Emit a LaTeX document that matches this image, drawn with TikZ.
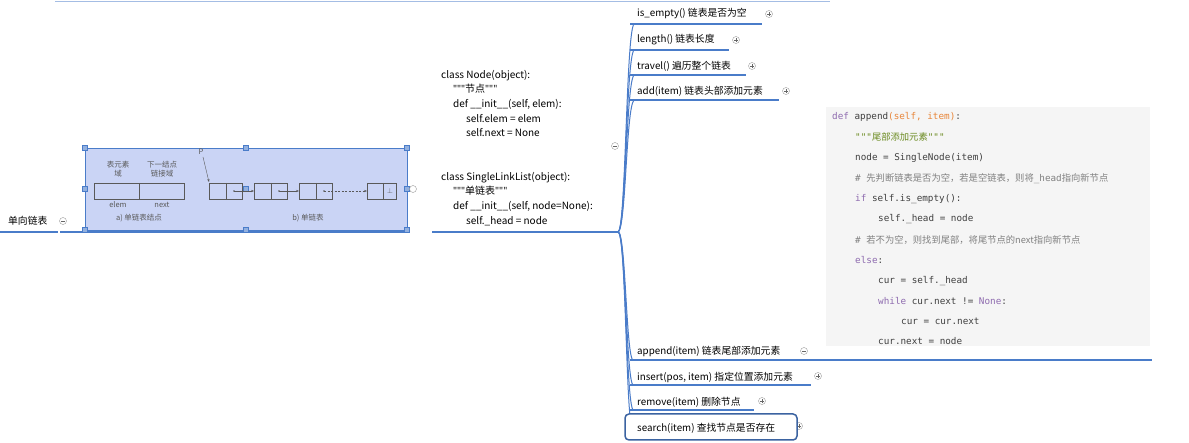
\documentclass[tikz,border=0pt]{standalone}
\usepackage{fontspec}
\setmainfont{Noto Sans CJK SC}
\newfontfamily\cjk{Noto Sans CJK SC}
\newfontfamily\lat{Open Sans}
\newfontfamily\mono{DejaVu Sans Mono}
\newcommand{\qq}{{\lat\char34\char34\char34}}
\usetikzlibrary{arrows.meta,calc}
\definecolor{bl}{HTML}{4A7CC9}
\definecolor{imgbg}{HTML}{CAD4F5}
\definecolor{kw}{HTML}{8E6BAF}
\definecolor{str}{HTML}{6A8A1F}
\definecolor{org}{HTML}{E8863A}
\definecolor{cmt}{HTML}{808080}
\definecolor{cd}{HTML}{404040}
\tikzset{
 lbl/.style={anchor=west,inner sep=0pt,font=\fontsize{9.8}{11}\selectfont},
 uline/.style={draw=bl,line width=1.2pt},
 plus/.style={circle,draw=gray!80,fill=white,minimum size=7pt,inner sep=0pt},
 code/.style={anchor=west,inner sep=0pt,font=\mono\fontsize{9.3}{10}\selectfont,text=cd},
 handle/.style={draw=bl,fill=bl!60,minimum size=5pt,inner sep=0pt},
 img/.style={font=\fontsize{7.5}{8.5}\selectfont,text=gray!70!black},
 cell/.style={draw=gray!70!black,line width=0.4pt}
}
\newcommand{\pl}[1]{\draw[gray!80!black,line width=0.5pt] ($(#1)+(-2pt,0)$)--($(#1)+(2pt,0)$) ($(#1)+(0,-2pt)$)--($(#1)+(0,2pt)$);}
\newcommand{\mi}[1]{\draw[gray!80!black,line width=0.5pt] ($(#1)+(-2pt,0)$)--($(#1)+(2pt,0)$);}
\begin{document}
\begin{tikzpicture}[x=1pt,y=-1pt]
\useasboundingbox[fill=white] (0,0) rectangle (1189,443);
\draw[bl!50,line width=0.6pt] (55,1)--(830,1);
% root
\node[lbl] (root) at (8,221) {单向链表};
\draw[uline] (0,232)--(58,232);
\node[plus] (rc) at (63,221) {}; \mi{rc}
% image
\draw[uline] (60,232)--(410,232);
\node[draw=bl,fill=imgbg,minimum width=322pt,minimum height=82pt,inner sep=0pt,anchor=north west] (im) at (85,148) {};
\foreach \x in {85,246,407}{\foreach \y in {148,189,230}{\node[handle] at (\x,\y) {};}}
\node[plus] (ic) at (413,189) {};
% image content
\draw[cell] (94,183) rectangle (184,199) (139,183)--(139,199);
\node[img,align=center] (l1) at (118,169) {表元素\\域};
\node[img,align=center] (l2) at (162,169) {下一结点\\链接域};
\node[img] (e1) at (118,205) {elem};
\node[img] (e2) at (162,205) {next};
\node[img] (ca) at (139,218) {a) 单链表结点};
\node[img] (cb) at (308,218) {b) 单链表};
\foreach \a/\b/\c in {209/226/242,254/271/287,299/316/332,367/383/396}{\draw[cell] (\a,183) rectangle (\c,199) (\b,183)--(\b,199);}
\node[img] (P) at (201,152) {P};
\draw[-{Stealth[length=3pt]},gray!70!black,line width=0.4pt] (203,157)--(209,182);
\foreach \s/\t in {234/254,279/299}{\fill[gray!70!black] (\s,191) circle (0.9pt); \draw[-{Stealth[length=3pt]},gray!70!black,line width=0.4pt] (\s,191)--(\t,191);}
\fill[gray!70!black] (324,191) circle (0.9pt);
\draw[-{Stealth[length=3pt]},gray!70!black,line width=0.4pt,dash pattern=on 2pt off 1.5pt] (324,191)--(367,191);
\node[img] at (390,191) {$\perp$};
% class code
\node[anchor=north west,inner sep=0pt,align=left,font=\fontsize{10}{14.6}\selectfont] (cls) at (441,70) {class Node(object):\\
\hspace*{12pt}\qq 节点\qq\\
\hspace*{12pt}def \_\_init\_\_(self, elem):\\
\hspace*{25pt}self.elem = elem\\
\hspace*{25pt}self.next = None\\[29pt]
class SingleLinkList(object):\\
\hspace*{12pt}\qq 单链表\qq\\
\hspace*{12pt}def \_\_init\_\_(self, node=None):\\
\hspace*{25pt}self.\_head = node};
\draw[uline] (432,232)--(618,232);
\node[plus] (cc) at (615,146) {}; \mi{cc}
% branches
\foreach \y in {24,50,75,100,360,385,410}{
 \draw[bl,line width=1pt] (618,232) .. controls (626,230) and (626,\y+8) .. (634,\y);}
\draw[bl,line width=1pt] (618,232) .. controls (626,232) and (626,420) .. (632,426);
\node[lbl] (n1) at (637,14) {is\_empty() 链表是否为空}; \draw[uline] (630,24)--(762,24); \node[plus] (p1) at (769,14) {}; \pl{p1}
\node[lbl] (n2) at (637,40) {length() 链表长度}; \draw[uline] (630,50)--(729,50); \node[plus] (p2) at (736,40) {}; \pl{p2}
\node[lbl] (n3) at (637,66) {travel() 遍历整个链表}; \draw[uline] (630,75)--(746,75); \node[plus] (p3) at (752,66) {}; \pl{p3}
\node[lbl] (n4) at (637,91) {add(item) 链表头部添加元素}; \draw[uline] (630,100)--(779,100); \node[plus] (p4) at (786,91) {}; \pl{p4}
\node[lbl] (n5) at (637,351) {append(item) 链表尾部添加元素}; \draw[uline] (630,360)--(1152,360); \node[plus] (p5) at (804,351) {}; \mi{p5}
\node[lbl] (n6) at (637,377) {insert(pos, item) 指定位置添加元素}; \draw[uline] (630,385)--(811,385); \node[plus] (p6) at (818,376) {}; \pl{p6}
\node[lbl] (n7) at (637,402) {remove(item) 删除节点}; \draw[uline] (630,410)--(754,410); \node[plus] (p7) at (762,401) {}; \pl{p7}
\node[plus] (p8) at (799,426) {}; \pl{p8}
\draw[draw=bl!80!black,line width=1.5pt,rounded corners=4pt,fill=white] (625,414) rectangle (797,440);
\node[lbl] (n8) at (637,428) {search(item) 查找节点是否存在};
% code block
\fill[gray!8] (826,107) rectangle (1150,346);
\node[code] at (832,117) {\textcolor{kw}{def} append\textcolor{org}{(self, item)}:};
\node[code] at (855,137) {\textcolor{str}{"""{\cjk 尾部添加元素}"""}};
\node[code] at (855,158) {node = SingleNode(item)};
\node[code] at (855,179) {\textcolor{cmt}{\# {\cjk 先判断链表是否为空，若是空链表，则将}\_head{\cjk 指向新节点}}};
\node[code] at (855,199) {\textcolor{kw}{if} self.is\_empty():};
\node[code] at (878,219) {self.\_head = node};
\node[code] at (855,240) {\textcolor{cmt}{\# {\cjk 若不为空，则找到尾部，将尾节点的next指向新节点}}};
\node[code] at (855,260) {\textcolor{kw}{else}:};
\node[code] at (878,281) {cur = self.\_head};
\node[code] at (878,301) {\textcolor{kw}{while} cur.next != \textcolor{kw}{None}:};
\node[code] at (901,321) {cur = cur.next};
\node[code] at (878,341) {cur.next = node};
\end{tikzpicture}
\end{document}
